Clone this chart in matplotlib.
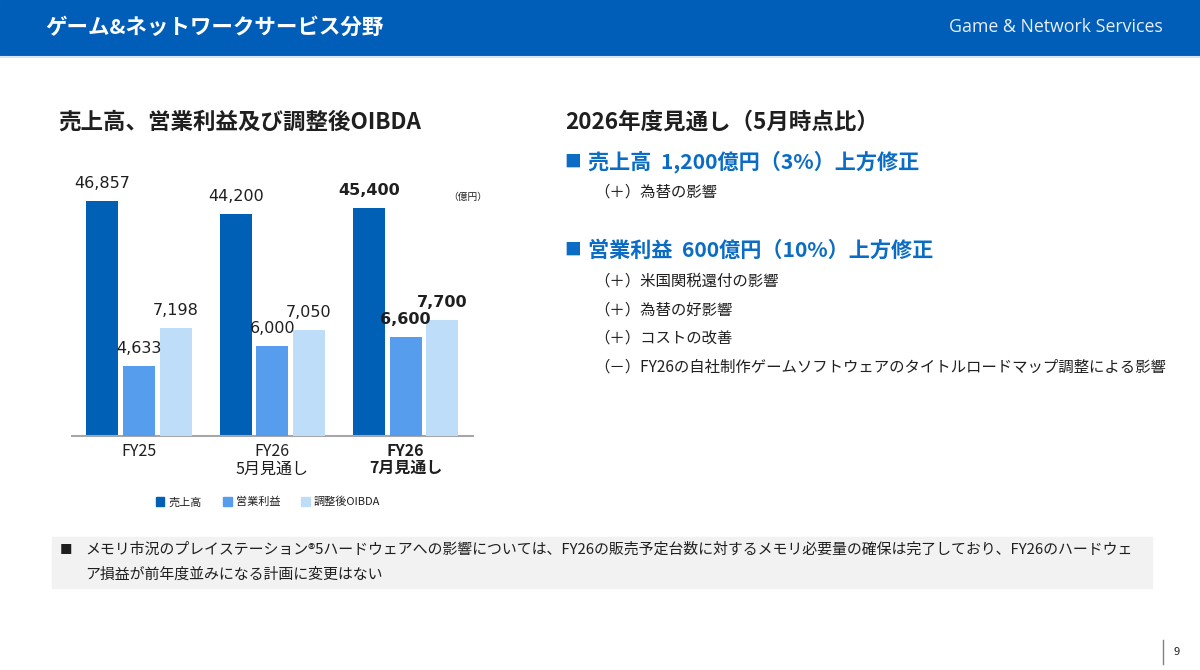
import numpy as np
import matplotlib
matplotlib.use("Agg")
import matplotlib.pyplot as plt
from matplotlib.patches import Rectangle, Patch
from matplotlib.lines import Line2D

plt.rcParams['font.family'] = ['Noto Sans CJK JP', 'DejaVu Sans']

# data
categories = ["FY25", "FY26\n5月見通し", "FY26\n7月見通し"]
sales = [46857, 44200, 45400]
op_income = [4633, 6000, 6600]
oibda = [7198, 7050, 7700]
series_names = ["売上高", "営業利益", "調整後OIBDA"]

c_dark = "#0060B6"
c_mid = "#569DEE"
c_light = "#BEDDF8"
c_text = "#1F1F1F"
c_head = "#005EB8"
c_blue_txt = "#0A6CC4"

W, H = 1200, 670


def fx(x):
    return x / W


def fy(y):
    return 1 - y / H


fig = plt.figure(figsize=(12, 6.7), dpi=100)

# header band
fig.patches.append(Rectangle((0, fy(55)), 1, 55 / H, transform=fig.transFigure,
                             color=c_head, zorder=0))
fig.add_artist(Line2D([0, 1], [fy(56.5), fy(56.5)], color="#D6E6F5", lw=1.5))
fig.text(fx(45), fy(27), "ゲーム&ネットワークサービス分野", color="white",
         fontsize=15.5, fontweight="bold", va="center", ha="left")
fig.text(fx(1163), fy(27), "Game & Network Services", color="#E8EEF8",
         fontsize=12.8, family=["Open Sans", "DejaVu Sans"], va="center", ha="right")

# left chart
ax = fig.add_axes([fx(72), fy(436), (473 - 72) / W, (436 - 170) / H])
ax2 = ax.twinx()
x = np.arange(len(categories))
bw = 0.24
off = 0.275
ymax = 53000
ax.set_ylim(0, ymax)
ax2.set_ylim(0, ymax / 3)
ax.set_xlim(-0.503, 2.506)

b1 = ax.bar(x - off, sales, bw, color=c_dark, label=series_names[0])
b2 = ax2.bar(x, op_income, bw, color=c_mid, label=series_names[1])
b3 = ax2.bar(x + off, oibda, bw, color=c_light, label=series_names[2])

for bars, a in [(b1, ax), (b2, ax2), (b3, ax2)]:
    for i, r in enumerate(bars):
        a.annotate(f"{r.get_height():,}", (r.get_x() + r.get_width() / 2, r.get_height()),
                   xytext=(0, 12.5), textcoords="offset points", ha="center", va="center",
                   fontsize=11.5, family="DejaVu Sans", color=c_text,
                   fontweight="bold" if i == 2 else "normal")

for a in (ax, ax2):
    for s in ["top", "right", "left"]:
        a.spines[s].set_visible(False)
    a.set_yticks([])
ax2.spines["bottom"].set_visible(False)
ax.spines["bottom"].set_color("#A6A6A6")
ax.spines["bottom"].set_linewidth(1.5)
ax.set_xticks(x)
ax.set_xticklabels(categories, fontsize=11.5, color=c_text, linespacing=1.1)
ax.tick_params(axis="x", length=0, pad=5)
ax.get_xticklabels()[2].set_fontweight("bold")

fig.text(fx(487), fy(197), "（億円）", fontsize=7, color=c_text, ha="right", va="center")

handles = [Patch(color=c_dark), Patch(color=c_mid), Patch(color=c_light)]
fig.legend(handles, series_names, loc="center", bbox_to_anchor=(fx(268), fy(502)),
           ncol=3, frameon=False, fontsize=8, handlelength=0.8, handleheight=0.8,
           handletextpad=0.35, columnspacing=1.9, labelcolor=c_text)

# titles
fig.text(fx(58), fy(122), "売上高、営業利益及び調整後OIBDA", fontsize=16.2,
         fontweight="bold", color=c_text, va="center")
fig.text(fx(565), fy(122), "2026年度見通し（5月時点比）", fontsize=16.2,
         fontweight="bold", color=c_text, va="center")

# right side text
heads = [(162, "売上高  1,200億円（3%）上方修正"),
         (250, "営業利益  600億円（10%）上方修正")]
for y, t in heads:
    fig.text(fx(564), fy(y), "■", fontsize=12, color=c_blue_txt, va="center")
    fig.text(fx(588), fy(y), t, fontsize=15.2, fontweight="bold", color=c_blue_txt, va="center")

items = [(192, "（＋）為替の影響"),
         (281, "（＋）米国関税還付の影響"),
         (310, "（＋）為替の好影響"),
         (338, "（＋）コストの改善"),
         (367, "（－）FY26の自社制作ゲームソフトウェアのタイトルロードマップ調整による影響")]
for y, t in items:
    fig.text(fx(594), fy(y), t, fontsize=11.1, color=c_text, va="center")

# bottom note box
fig.patches.append(Rectangle((fx(52), fy(588)), (1152 - 52) / W, (588 - 537) / H,
                             transform=fig.transFigure, color="#F2F2F2", zorder=0))
fig.text(fx(60), fy(550), "■", fontsize=9, color=c_text, va="center")
fig.text(fx(85), fy(550),
         "メモリ市況のプレイステーション®5ハードウェアへの影響については、FY26の販売予定台数に対するメモリ必要量の確保は完了しており、FY26のハードウェ",
         fontsize=10.75, color=c_text, va="center")
fig.text(fx(85), fy(575), "ア損益が前年度並みになる計画に変更はない",
         fontsize=10.75, color=c_text, va="center")

# page number
fig.add_artist(Line2D([fx(1163), fx(1163)], [fy(640), fy(664)], color="#808080", lw=1))
fig.text(fx(1173), fy(652), "9", fontsize=8, color=c_text, va="center")

fig.savefig("out.png", dpi=100)
